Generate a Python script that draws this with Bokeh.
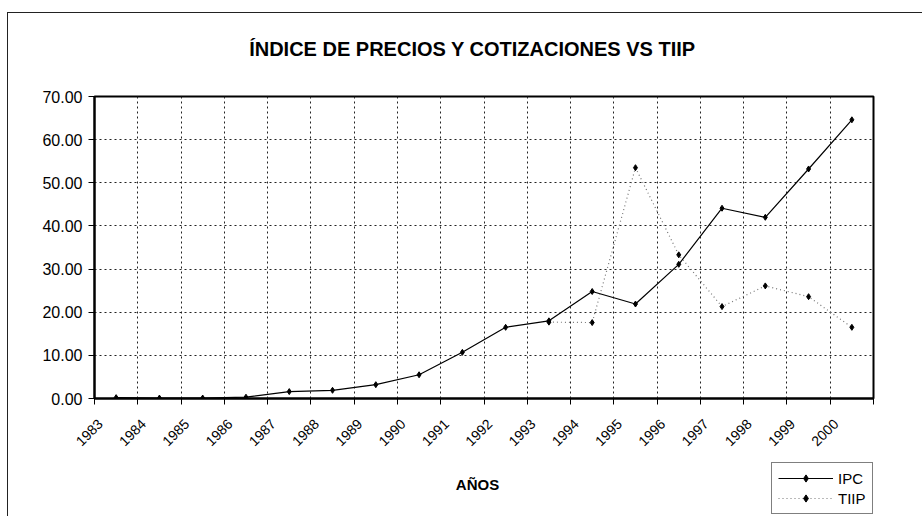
import math
from bokeh.plotting import figure
from bokeh.layouts import column
from bokeh.models import (Range1d, FixedTicker, CustomJSTickFormatter, PrintfTickFormatter,
                          ColumnDataSource, Legend, LegendItem, Label)
from bokeh.embed import file_html
from bokeh.resources import INLINE

# ---- data ----
years = ["1983", "1984", "1985", "1986", "1987", "1988", "1989", "1990", "1991",
         "1992", "1993", "1994", "1995", "1996", "1997", "1998", "1999", "2000"]
ipc = [0.2, 0.1, 0.1, 0.3, 1.6, 1.9, 3.2, 5.5, 10.7, 16.5, 18.0, 24.8, 21.9,
       31.1, 44.1, 42.0, 53.2, 64.6]
nan = float("nan")
tiip = [nan, nan, nan, nan, nan, nan, nan, nan, nan, nan, 17.7, 17.6, 53.5,
        33.3, 21.3, 26.1, 23.6, 16.5]
y_ticks = [0, 10, 20, 30, 40, 50, 60, 70]
series_names = ["IPC", "TIIP"]
title_text = "ÍNDICE DE PRECIOS Y COTIZACIONES VS TIIP"
x_title = "AÑOS"

n = len(years)
xpos = [i + 0.5 for i in range(n)]
src = ColumnDataSource(dict(x=xpos, ipc=ipc, tiip=tiip, year=years))

FONT = "Liberation Sans"
W = 915
BORDER = "1px solid #222"
# frame of the strips is aligned with the chart frame (page x 94..873)
FX0, FX1 = 94, 873


def blank_fig(h, styles):
    f = figure(width=W, height=h, output_backend="svg", toolbar_location=None,
               x_range=Range1d(FX0, FX1), y_range=Range1d(0, h),
               min_border_left=86, min_border_right=50, min_border_top=0, min_border_bottom=0,
               styles=styles)
    f.axis.visible = False
    f.grid.visible = False
    f.outline_line_color = None
    f.background_fill_color = "white"
    f.border_fill_color = "white"
    return f


# ---- title strip ----
TH = 50
tf = blank_fig(TH, {"margin-left": "7px", "margin-top": "12px",
                    "border-left": BORDER, "border-top": BORDER})
tf.add_layout(Label(x=472, y=TH - 35, text=title_text, text_align="center",
                    text_baseline="middle", text_font=FONT, text_font_size="20px",
                    text_font_style="bold", text_color="black"))

# ---- main chart ----
p = figure(width=W, height=398, output_backend="svg", toolbar_location=None,
           x_range=Range1d(0, n), y_range=Range1d(0, 70),
           min_border_left=86, min_border_right=50, min_border_top=34, min_border_bottom=62,
           styles={"margin-left": "7px", "border-left": BORDER})
p.background_fill_color = "white"
p.border_fill_color = "white"
p.outline_line_color = "black"
p.outline_line_width = 2

label_pos = [i + 0.13 for i in range(n)]
xa = p.xaxis[0]
xa.ticker = FixedTicker(ticks=label_pos, minor_ticks=list(range(n + 1)))
xa.formatter = CustomJSTickFormatter(args=dict(labels=years),
                                     code="const i = Math.floor(tick); return (i >= 0 && i < labels.length) ? labels[i] : '';")
xa.major_label_orientation = math.pi / 4
xa.major_tick_line_color = None
xa.minor_tick_line_color = "black"
xa.minor_tick_out = 6
xa.minor_tick_in = 0
xa.axis_line_color = "black"
xa.axis_line_width = 2
xa.major_label_text_font = FONT
xa.major_label_text_font_size = "14px"
xa.major_label_text_color = "black"
xa.major_label_standoff = 17

p.xgrid.ticker = FixedTicker(ticks=[], minor_ticks=list(range(n + 1)))
p.xgrid.grid_line_color = None
p.xgrid.minor_grid_line_color = "#222222"
p.xgrid.minor_grid_line_dash = "2 3"
p.xgrid.minor_grid_line_width = 1

ya = p.yaxis[0]
ya.ticker = FixedTicker(ticks=y_ticks)
ya.formatter = PrintfTickFormatter(format="%.2f")
ya.major_tick_out = 6
ya.major_tick_in = 0
ya.major_tick_line_color = "black"
ya.minor_tick_line_color = None
ya.axis_line_color = "black"
ya.axis_line_width = 2
ya.major_label_text_font = FONT
ya.major_label_text_font_size = "16px"
ya.major_label_text_color = "black"
ya.major_label_standoff = 6

p.ygrid.grid_line_color = "#222222"
p.ygrid.grid_line_dash = "2 3"
p.ygrid.grid_line_width = 1

IPC_LINE = dict(line_color="black", line_width=1.2)
TIIP_LINE = dict(line_color="#777777", line_width=1.2, line_dash="1 3")
MARK = dict(marker="diamond", size=6, color="black")

p.line("x", "ipc", source=src, **IPC_LINE)
p.scatter("x", "ipc", source=src, **MARK)
p.line("x", "tiip", source=src, **TIIP_LINE)
p.scatter("x", "tiip", source=src, **MARK)

# ---- bottom strip: axis title + legend ----
BH = 56
bf = blank_fig(BH, {"margin-left": "7px", "border-left": BORDER})
bf.add_layout(Label(x=477, y=BH - 24, text=x_title, text_align="center",
                    text_baseline="middle", text_font=FONT, text_font_size="15px",
                    text_font_style="bold", text_color="black"))
# hidden copies of the series, only used to draw the legend swatches
r1 = bf.line("x", "ipc", source=src, visible=False, **IPC_LINE)
s1 = bf.scatter("x", "ipc", source=src, visible=False, **MARK)
r2 = bf.line("x", "tiip", source=src, visible=False, **TIIP_LINE)
s2 = bf.scatter("x", "tiip", source=src, visible=False, **MARK)
legend = Legend(items=[LegendItem(label=series_names[0], renderers=[r1, s1]),
                       LegendItem(label=series_names[1], renderers=[r2, s2])],
                location=(677, 2))
legend.label_text_font = FONT
legend.label_text_font_size = "15px"
legend.label_text_color = "black"
legend.glyph_width = 55
legend.glyph_height = 18
legend.label_height = 18
legend.label_standoff = 5
legend.spacing = 2
legend.padding = 6
legend.margin = 0
legend.border_line_color = "black"
legend.border_line_width = 1
legend.background_fill_color = "white"
legend.inactive_fill_alpha = 0
bf.add_layout(legend, "center")

layout = column(tf, p, bf, spacing=0)
open("out.html", "w").write(file_html(layout, INLINE))
